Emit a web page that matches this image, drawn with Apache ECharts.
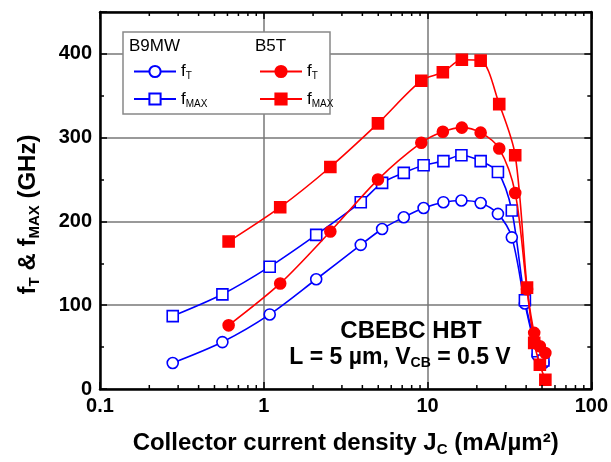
<!DOCTYPE html>
<html>
<head>
<meta charset="UTF-8">
<title>fT fMAX vs Jc</title>
<script type="text/javascript" src="https://cdn.jsdelivr.net/npm/echarts@6/dist/echarts.min.js"></script>
<style>
  body{margin:0;background:#fff}
</style>
</head>
<body>
<div id="main" style="width:611px;height:462px"></div>
<script type="text/javascript">
// collector current density (mA/um2) for each device
var b9X = [0.278, 0.559, 1.087, 2.09, 3.91, 5.28, 7.16, 9.46, 12.5, 16.1, 21.1, 26.9, 32.7, 39.3, 47, 51];
var b9Ft = [31, 56, 89, 131, 172, 191, 205, 216, 223, 225, 222, 209, 181, 102, 40, 31];
var b9Fmax = [87, 113, 146, 184, 223, 246, 258, 267, 272, 279, 272, 259, 213, 106, 45, 34];

var b5X = [0.61, 1.26, 2.55, 4.98, 9.16, 12.4, 16.2, 21.1, 27.4, 34.3, 40.5, 44.8, 48.5, 52.4];
var b5Ft = [76, 126, 188, 250, 294, 307, 312, 306, 287, 234, 119, 67, 51, 43];
var b5Fmax = [176, 217, 265, 317, 368, 378, 393, 392, 340, 279, 121, 55, 29, 11];

var minorX = [0.2,0.3,0.4,0.5,0.6,0.7,0.8,0.9, 2,3,4,5,6,7,8,9, 20,30,40,50,60,70,80,90];

function pairs(xs, ys) {
	return xs.map(function (x, i) { return [x, ys[i]]; });
}

var myEcharts = echarts.init(document.getElementById('main'));
var FONT = 'Liberation Sans';
var BLUE = '#0000ff', RED = '#ff0000';

var sub = {
	b: {fontFamily: FONT, fontWeight: 'bold', fontSize: 24, color: '#000'},
	sb: {fontFamily: FONT, fontWeight: 'bold', fontSize: 15, color: '#000', padding: [12, 0, 0, 0]}
};
var legendRich = {
	f: {fontFamily: FONT, fontSize: 17, color: '#000'},
	s: {fontFamily: FONT, fontSize: 10, color: '#000', padding: [10, 0, 0, 0]}
};
function legendFmt(name) {
	return /fT$/.test(name) ? '{f|f}{s|T}' : '{f|f}{s|MAX}';
}

function lineSeries(name, data, color, symbol, filled) {
	return {
		name: name,
		type: 'line',
		data: data,
		smooth: 0.3,
		symbol: symbol,
		symbolSize: 11,
		showSymbol: true,
		lineStyle: {color: color, width: 1.6},
		itemStyle: {color: filled ? color : '#fff', borderColor: color, borderWidth: 1.6},
		z: filled ? 4 : 3,
		animation: false
	};
}

var axisBase = {
	axisLine: {show: true, onZero: false, lineStyle: {color: '#000', width: 2.5}},
	axisTick: {show: true, inside: true, length: 7, lineStyle: {color: '#000', width: 1.5}}
};
var tickFont = {fontFamily: FONT, fontWeight: 'bold', fontSize: 20, color: '#000'};

option = {
	animation: false,
	grid: {left: 100, right: 17, top: 12, bottom: 73},
	xAxis: [Object.assign({
		type: 'log', logBase: 10, min: 0.1, max: 100,
		position: 'bottom',
		name: '{b|Collector current density J}{sb|C}{b| (mA/µm²)}',
		nameLocation: 'middle', nameGap: 41,
		nameTextStyle: {rich: sub},
		axisLabel: Object.assign({margin: 7}, tickFont),
		splitLine: {show: true, lineStyle: {color: '#777', width: 1.5}}
	}, axisBase), Object.assign({
		type: 'log', logBase: 10, min: 0.1, max: 100,
		position: 'top',
		axisLabel: {show: false},
		splitLine: {show: false}
	}, axisBase)],
	yAxis: [Object.assign({
		type: 'value', min: 0, max: 450, interval: 100,
		position: 'left',
		name: '{b|f}{sb|T}{b| & f}{sb|MAX}{b| (GHz)}',
		nameLocation: 'middle', nameGap: 58,
		nameTextStyle: {rich: sub, padding: [0, 28, 0, 0]},
		axisLabel: Object.assign({margin: 8, showMaxLabel: false}, tickFont),
		minorTick: {show: true, splitNumber: 2, length: 4, lineStyle: {color: '#000', width: 1.5}},
		splitLine: {show: true, lineStyle: {color: '#777', width: 1.5}}
	}, axisBase), Object.assign({
		type: 'value', min: 0, max: 450, interval: 100,
		position: 'right',
		axisLabel: {show: false},
		minorTick: {show: true, splitNumber: 2, length: 4, lineStyle: {color: '#000', width: 1.5}},
		splitLine: {show: false}
	}, axisBase)],
	legend: [{
		data: ['B9MW fT', 'B9MW fMAX'],
		orient: 'vertical', left: 128, top: 58,
		itemWidth: 42, itemHeight: 14, itemGap: 9,
		formatter: legendFmt,
		textStyle: {rich: legendRich},
		selectedMode: false
	}, {
		data: ['B5T fT', 'B5T fMAX'],
		orient: 'vertical', left: 254, top: 58,
		itemWidth: 42, itemHeight: 14, itemGap: 9,
		formatter: legendFmt,
		textStyle: {rich: legendRich},
		selectedMode: false
	}],
	graphic: [{
		type: 'rect', z: 1,
		shape: {x: 123, y: 32, width: 207, height: 82},
		style: {fill: '#fff', stroke: '#888', lineWidth: 1.5}
	}, {
		type: 'text', z: 5, left: 129, top: 38,
		style: {text: 'B9MW', fontFamily: FONT, fontSize: 17, fill: '#000'}
	}, {
		type: 'text', z: 5, left: 255, top: 38,
		style: {text: 'B5T', fontFamily: FONT, fontSize: 17, fill: '#000'}
	}, {
		type: 'text', z: 5, x: 411, y: 331,
		style: {text: 'CBEBC HBT', fontFamily: FONT, fontWeight: 'bold', fontSize: 24, fill: '#000',
			textAlign: 'center', textVerticalAlign: 'middle'}
	}, {
		type: 'text', z: 5, x: 400, y: 358,
		style: {
			text: '{b|L = 5 µm, V}{sb|CB}{b| = 0.5 V}',
			textAlign: 'center', textVerticalAlign: 'middle',
			rich: {
				b: {fontFamily: FONT, fontWeight: 'bold', fontSize: 23, fill: '#000'},
				sb: {fontFamily: FONT, fontWeight: 'bold', fontSize: 14, fill: '#000', padding: [11, 0, 0, 0]}
			}
		}
	}],
	series: [
		lineSeries('B9MW fT', pairs(b9X, b9Ft), BLUE, 'circle', false),
		lineSeries('B9MW fMAX', pairs(b9X, b9Fmax), BLUE, 'rect', false),
		lineSeries('B5T fT', pairs(b5X, b5Ft), RED, 'circle', true),
		lineSeries('B5T fMAX', pairs(b5X, b5Fmax), RED, 'rect', true),
		{
			// log minor ticks on bottom and top axes
			type: 'custom',
			silent: true,
			clip: false,
			z: 10,
			data: minorX.map(function (v) { return [v, 0]; }),
			renderItem: function (params, api) {
				var lo = api.coord([api.value(0), 0]);
				var hi = api.coord([api.value(0), 450]);
				var st = {stroke: '#000', lineWidth: 1.5};
				return {
					type: 'group',
					children: [
						{type: 'line', shape: {x1: lo[0], y1: lo[1], x2: lo[0], y2: lo[1] - 4}, style: st},
						{type: 'line', shape: {x1: hi[0], y1: hi[1], x2: hi[0], y2: hi[1] + 4}, style: st}
					]
				};
			}
		}
	]
};
myEcharts.setOption(option);
</script>
</body>
</html>
